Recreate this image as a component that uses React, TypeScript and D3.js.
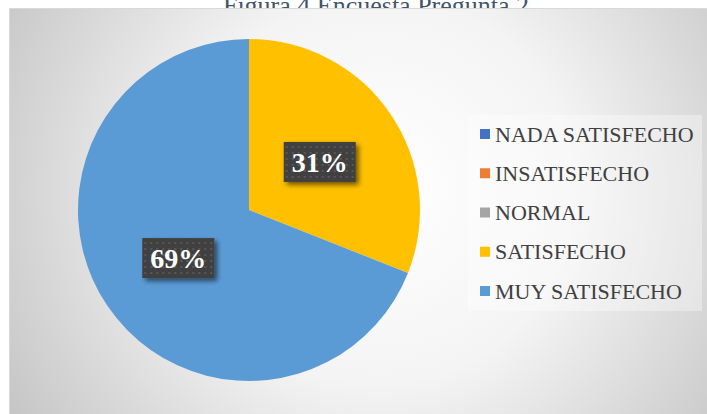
import React, { useEffect, useRef } from "react";
import * as d3 from "d3";

const title = "Figura 4 Encuesta Pregunta 2";
const categories = ["NADA SATISFECHO", "INSATISFECHO", "NORMAL", "SATISFECHO", "MUY SATISFECHO"];
const values = [0, 0, 0, 31, 69];
const colors = ["#4472C4", "#ED7D31", "#A5A5A5", "#FFC000", "#5B9BD5"];

const width = 707;
const height = 414;

const App = () => {
  const svgRef = useRef<SVGSVGElement>(null);

  useEffect(() => {
    const svg = d3.select(svgRef.current);
    svg.selectAll("*").remove();
    svg.attr("width", width).attr("height", height);

    const defs = svg.append("defs");
    const bg = defs
      .append("radialGradient")
      .attr("id", "bg-grad")
      .attr("gradientUnits", "userSpaceOnUse")
      .attr("cx", 380)
      .attr("cy", 190)
      .attr("r", 430);
    bg.append("stop").attr("offset", "0%").attr("stop-color", "#ffffff");
    bg.append("stop").attr("offset", "45%").attr("stop-color", "#f4f4f4");
    bg.append("stop").attr("offset", "100%").attr("stop-color", "#c6c6c6");

    const pat = defs
      .append("pattern")
      .attr("id", "dots")
      .attr("width", 6)
      .attr("height", 6)
      .attr("patternUnits", "userSpaceOnUse");
    pat.append("rect").attr("width", 6).attr("height", 6).attr("fill", "#404040");
    pat.append("rect").attr("x", 2).attr("y", 2).attr("width", 2).attr("height", 2).attr("fill", "#585858");

    const shadow = defs.append("filter").attr("id", "shadow").attr("x", "-20%").attr("y", "-20%").attr("width", "150%").attr("height", "160%");
    shadow.append("feDropShadow").attr("dx", 3).attr("dy", 3).attr("stdDeviation", 2.5).attr("flood-color", "#000").attr("flood-opacity", 0.55);

    svg.append("rect").attr("width", width).attr("height", height).attr("fill", "#ffffff");

    // title, partly hidden behind the chart area
    svg
      .append("text")
      .attr("x", 376)
      .attr("y", 14)
      .attr("text-anchor", "middle")
      .style("font-family", "'Liberation Serif', 'Times New Roman', serif")
      .style("font-size", "26px")
      .style("fill", "#44546a")
      .text(title);

    svg
      .append("rect")
      .attr("x", 9.5)
      .attr("y", 8.5)
      .attr("width", width)
      .attr("height", height)
      .attr("fill", "url(#bg-grad)")
      .attr("stroke", "#d9d9d9");

    // legend backdrop
    svg
      .append("rect")
      .attr("x", 468)
      .attr("y", 115)
      .attr("width", 234)
      .attr("height", 196)
      .attr("fill", "#ffffff")
      .attr("opacity", 0.35);

    const cx = 249;
    const cy = 210;
    const radius = 171;

    const pie = d3.pie<number>().sort(null).value((d) => d);
    const arcs = pie(values);
    const arc = d3.arc<d3.PieArcDatum<number>>().innerRadius(0).outerRadius(radius);
    const labelArc = d3.arc<d3.PieArcDatum<number>>().innerRadius(radius * 0.5).outerRadius(radius * 0.5);

    const g = svg.append("g").attr("transform", `translate(${cx},${cy})`);
    g.selectAll("path")
      .data(arcs.filter((a) => a.value > 0))
      .join("path")
      .attr("d", arc)
      .attr("fill", (d) => colors[d.index]);

    const total = d3.sum(values);
    arcs
      .filter((a) => a.value > 0)
      .forEach((a) => {
        const [lx, ly] = labelArc.centroid(a);
        const lg = g.append("g").attr("transform", `translate(${lx},${ly})`);
        lg.append("rect")
          .attr("x", -36)
          .attr("y", -20)
          .attr("width", 72)
          .attr("height", 40)
          .attr("fill", "url(#dots)")
          .attr("filter", "url(#shadow)");
        lg.append("text")
          .attr("text-anchor", "middle")
          .attr("dy", "0.35em")
          .style("font-family", "'Liberation Serif', 'Times New Roman', serif")
          .style("font-size", "28px")
          .style("font-weight", "bold")
          .style("fill", "#ffffff")
          .text(`${Math.round((a.value / total) * 100)}%`);
      });

    const legend = svg.append("g");
    const rowY = d3.scalePoint<string>().domain(categories).range([134, 291]);
    categories.forEach((c, i) => {
      const y = rowY(c)!;
      legend.append("rect").attr("x", 480).attr("y", y - 5).attr("width", 10).attr("height", 10).attr("fill", colors[i]);
      legend
        .append("text")
        .attr("x", 495)
        .attr("y", y)
        .attr("dy", "0.35em")
        .style("font-family", "'Liberation Serif', 'Times New Roman', serif")
        .style("font-size", "22px")
        .style("fill", "#404040")
        .text(c);
    });
  }, []);

  return <svg ref={svgRef} style={{ position: "absolute", left: 0, top: 0, display: "block" }}></svg>;
};

export default App;
